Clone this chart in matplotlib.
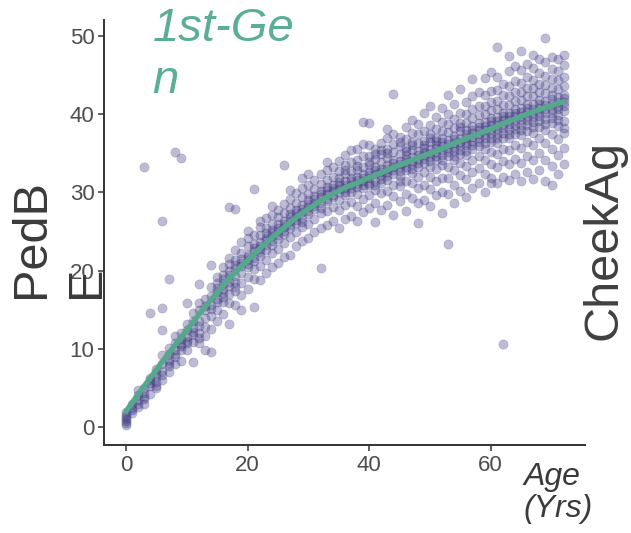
import matplotlib
matplotlib.use("Agg")
import matplotlib.pyplot as plt

# --- values (PedBE clock vs chronological age) ---
# one list of PedBE estimates per integer age, grouped by decade
pedbe_age_00_09 = [
    [0.3, 0.8, 1.0, 1.3, 1.6, 0.5, 1.9],
    [1.8, 2.5, 3.0, 2.2],
    [2.6, 3.4, 4.1, 3.0, 4.8],
    [3.0, 3.6, 4.4, 5.0, 33.2, 3.9],
    [4.2, 5.2, 6.0, 6.3, 14.6, 5.6],
    [5.3, 5.8, 6.4, 6.9, 7.4, 5.0],
    [6.0, 7.2, 8.0, 9.2, 15.2, 12.4, 26.3, 6.6],
    [7.1, 7.8, 8.6, 9.4, 10.1, 18.9, 8.2],
    [8.0, 9.0, 9.9, 10.8, 11.6, 35.2, 9.4],
    [8.4, 9.8, 10.6, 11.3, 12.0, 34.4, 10.3],
]
pedbe_age_10_19 = [
    [9.8, 10.7, 11.5, 12.4, 13.2, 15.9, 11.0],
    [8.3, 10.9, 11.8, 12.6, 13.5, 14.6, 12.2],
    [10.8, 12.0, 12.9, 13.6, 14.9, 15.8, 18.3, 11.4],
    [9.8, 11.6, 12.8, 13.9, 15.0, 16.4, 15.5],
    [12.5, 14.2, 15.6, 16.8, 17.9, 20.7, 15.1, 9.6],
    [13.6, 15.0, 16.4, 17.3, 18.4, 19.2, 16.0, 17.8],
    [14.5, 16.0, 17.2, 18.3, 19.4, 20.5, 17.6, 18.9, 16.6],
    [13.2, 15.8, 17.0, 18.6, 19.5, 20.8, 21.6, 28.1, 18.0, 19.9],
    [15.6, 17.4, 18.5, 19.3, 20.2, 21.4, 22.6, 27.9, 17.9, 20.7],
    [16.9, 18.4, 19.7, 20.6, 21.5, 22.3, 23.6, 15.0, 21.0],
]
pedbe_age_20_29 = [
    [17.6, 19.2, 20.4, 21.3, 22.0, 23.1, 24.2, 25.0, 21.7, 20.9],
    [15.3, 18.9, 20.2, 21.6, 22.5, 23.4, 24.6, 30.4, 22.9, 21.2],
    [18.8, 20.6, 21.9, 22.8, 23.7, 24.5, 25.6, 26.4, 23.2, 22.4],
    [19.7, 21.3, 22.6, 23.9, 24.8, 25.5, 26.7, 24.2, 23.3],
    [20.5, 22.2, 23.3, 24.4, 25.2, 26.0, 27.1, 28.3, 24.8, 23.8],
    [21.0, 22.8, 24.1, 25.0, 25.9, 26.8, 27.8, 24.6, 25.4],
    [21.8, 23.5, 24.7, 25.6, 26.4, 27.3, 28.5, 33.5, 26.0, 25.1],
    [22.0, 24.3, 25.4, 26.3, 27.2, 28.0, 29.2, 26.8, 25.8, 30.3],
    [23.1, 24.9, 26.1, 27.0, 27.8, 28.7, 29.9, 26.5, 27.4],
    [23.8, 25.6, 26.7, 27.5, 28.4, 29.4, 30.6, 31.8, 27.9, 26.2],
]
pedbe_age_30_39 = [
    [24.2, 26.0, 27.2, 28.1, 29.0, 29.8, 31.0, 28.5, 27.6, 32.4],
    [24.9, 26.6, 27.9, 28.7, 29.5, 30.4, 31.6, 29.1, 28.2],
    [20.3, 25.5, 27.3, 28.6, 29.4, 30.2, 31.1, 32.3, 29.8, 28.0],
    [25.8, 27.6, 28.9, 29.8, 30.7, 31.6, 32.8, 30.3, 29.2, 33.9],
    [26.3, 28.1, 29.4, 30.2, 31.0, 32.0, 33.2, 30.6, 29.7],
    [25.4, 27.7, 29.0, 30.0, 30.9, 31.8, 32.7, 34.0, 31.3, 30.4],
    [26.6, 28.4, 29.7, 30.6, 31.5, 32.4, 33.5, 34.8, 31.0, 30.1, 32.9],
    [27.0, 28.8, 30.1, 31.0, 31.8, 32.7, 33.9, 35.4, 31.4, 30.5],
    [26.4, 28.3, 29.8, 31.1, 32.0, 32.9, 34.1, 35.6, 31.6, 30.7, 33.4],
    [27.5, 29.2, 30.5, 31.4, 32.3, 33.3, 34.6, 39.0, 31.9, 30.9, 36.2],
]
pedbe_age_40_49 = [
    [28.0, 29.6, 30.9, 31.8, 32.6, 33.5, 34.7, 36.0, 32.2, 31.2, 33.9, 38.9],
    [26.2, 28.7, 30.3, 31.5, 32.4, 33.3, 34.3, 35.5, 32.8, 31.0, 34.9],
    [27.8, 29.9, 31.2, 32.2, 33.0, 33.9, 34.9, 36.3, 32.6, 31.7, 35.4],
    [28.4, 30.2, 31.6, 32.6, 33.5, 34.4, 35.5, 36.9, 38.1, 33.0, 32.1, 35.0],
    [27.1, 29.5, 31.0, 32.3, 33.3, 34.2, 35.1, 36.2, 42.6, 33.8, 32.8, 37.4],
    [28.9, 30.8, 32.1, 33.2, 34.0, 34.9, 35.9, 37.1, 33.6, 32.7, 36.4, 31.5],
    [27.6, 29.8, 31.5, 32.8, 33.9, 34.8, 35.7, 36.8, 38.3, 34.3, 33.3, 35.3],
    [29.3, 31.2, 32.5, 33.6, 34.5, 35.4, 36.4, 37.6, 39.2, 34.0, 33.0, 36.0],
    [26.1, 28.6, 30.5, 32.0, 33.3, 34.3, 35.3, 36.3, 37.5, 34.8, 33.8, 38.8],
    [29.0, 31.0, 32.6, 33.8, 34.8, 35.7, 36.6, 37.8, 40.2, 35.2, 34.3, 36.1],
]
pedbe_age_50_59 = [
    [28.2, 30.4, 32.0, 33.3, 34.5, 35.5, 36.5, 37.4, 38.6, 35.0, 34.0, 36.9, 41.0],
    [29.6, 31.5, 33.0, 34.2, 35.2, 36.1, 37.0, 38.1, 39.6, 35.7, 34.7, 36.6],
    [27.4, 30.0, 31.9, 33.5, 34.8, 35.9, 36.9, 37.9, 39.0, 40.8, 35.4, 36.4, 34.1],
    [23.4, 29.8, 31.8, 33.3, 34.6, 35.7, 36.7, 37.7, 38.7, 40.0, 35.2, 36.2, 42.4],
    [28.7, 31.0, 32.8, 34.1, 35.3, 36.3, 37.2, 38.2, 39.4, 41.3, 35.8, 36.8, 34.6],
    [30.2, 32.2, 33.7, 34.9, 36.0, 37.0, 37.9, 38.9, 40.1, 36.5, 35.4, 38.4, 43.2],
    [29.4, 31.7, 33.4, 34.8, 36.0, 37.0, 38.0, 38.9, 40.0, 41.6, 36.5, 37.5, 35.3],
    [30.6, 32.6, 34.2, 35.5, 36.6, 37.6, 38.5, 39.5, 40.7, 42.3, 37.1, 38.0, 36.0, 44.5],
    [31.2, 33.1, 34.6, 35.9, 37.0, 38.0, 38.9, 39.9, 41.0, 42.8, 37.5, 38.4, 36.4],
    [30.0, 32.4, 34.1, 35.6, 36.9, 38.0, 39.0, 40.0, 41.1, 42.4, 44.6, 37.5, 38.5, 36.3],
]
pedbe_age_60_72 = [
    [31.8, 33.6, 35.2, 36.5, 37.6, 38.6, 39.5, 40.5, 41.6, 43.0, 38.1, 39.1, 37.0, 45.4, 31.2],
    [31.2, 33.2, 34.9, 36.3, 37.5, 38.6, 39.6, 40.6, 41.7, 43.1, 48.6, 38.1, 39.1, 36.9, 44.7],
    [10.6, 32.0, 34.0, 35.6, 37.0, 38.2, 39.2, 40.2, 41.2, 42.4, 43.9, 38.7, 39.7, 37.6],
    [31.6, 33.6, 35.4, 36.9, 38.1, 39.2, 40.2, 41.2, 42.3, 43.6, 45.5, 38.7, 39.7, 37.5, 47.4],
    [32.3, 34.3, 36.0, 37.4, 38.6, 39.7, 40.7, 41.7, 42.8, 44.2, 39.2, 40.2, 38.1, 46.2],
    [31.4, 33.8, 35.7, 37.3, 38.6, 39.8, 40.8, 41.8, 42.8, 44.0, 45.6, 39.3, 40.3, 38.0, 48.1],
    [32.6, 34.6, 36.4, 37.9, 39.2, 40.3, 41.3, 42.3, 43.4, 44.7, 39.8, 40.8, 38.6, 46.4],
    [31.7, 34.1, 36.0, 37.6, 39.0, 40.2, 41.3, 42.3, 43.3, 44.4, 45.9, 39.6, 40.7, 38.3, 47.6],
    [32.8, 35.0, 36.9, 38.4, 39.7, 40.8, 41.8, 42.8, 43.9, 45.2, 40.3, 41.3, 39.1, 47.0],
    [31.5, 34.2, 36.3, 38.0, 39.4, 40.6, 41.7, 42.7, 43.7, 44.9, 46.6, 49.7, 40.1, 41.2, 38.7],
    [31.0, 33.4, 35.6, 37.4, 38.9, 40.2, 41.3, 42.4, 43.4, 44.5, 45.8, 47.3, 40.7, 41.9, 39.5],
    [32.4, 34.8, 36.8, 38.5, 39.9, 41.1, 42.2, 43.2, 44.3, 45.5, 47.1, 40.6, 41.6, 39.3],
    [33.6, 35.7, 37.6, 39.1, 40.4, 41.5, 42.5, 43.6, 44.8, 46.3, 47.5, 41.0, 42.0, 38.2],
]

# smoothed trend
trend_age = [0, 2, 4, 6, 8, 10, 12, 14, 16, 18, 20, 22, 24, 26, 28, 30, 32, 34, 36,
             38, 40, 42, 44, 46, 48, 50, 52, 54, 56, 58, 60, 62, 64, 66, 68, 70, 72]
trend_pedbe = [2.0, 4.2, 6.3, 8.4, 10.4, 12.4, 14.4, 16.3, 18.1, 19.8, 21.3, 22.8,
               24.2, 25.5, 26.8, 27.9, 28.9, 29.8, 30.6, 31.2, 31.9, 32.5, 33.2,
               33.8, 34.4, 35.0, 35.6, 36.3, 36.9, 37.5, 38.1, 38.8, 39.4, 40.0,
               40.6, 41.1, 41.6]

x_ticks = [0, 20, 40, 60]
y_ticks = [0, 10, 20, 30, 40, 50]

# flatten into age / value pairs
ages, pedbe = [], []
groups = (pedbe_age_00_09 + pedbe_age_10_19 + pedbe_age_20_29 + pedbe_age_30_39
          + pedbe_age_40_49 + pedbe_age_50_59 + pedbe_age_60_72)
for age, vals in enumerate(groups):
    ages += [age] * len(vals)
    pedbe += vals

plt.rcParams['font.family'] = ['Liberation Sans', 'DejaVu Sans']

fig = plt.figure(figsize=(6.31, 5.33), dpi=100)
ax = fig.add_axes([0.165, 0.165, 0.762, 0.797])

ax.scatter(ages, pedbe, s=44, color='#3B3680', alpha=0.33, linewidths=0.4,
           edgecolors='#3B3680', zorder=2)
ax.plot(trend_age, trend_pedbe, color='#55A88C', lw=3.8, solid_capstyle='round', zorder=3)

ax.set_xlim(-3.6, 75.5)
ax.set_ylim(-2.3, 52.0)
ax.set_xticks(x_ticks)
ax.set_yticks(y_ticks)

for side in ['top', 'right']:
    ax.spines[side].set_visible(False)
for side in ['left', 'bottom']:
    ax.spines[side].set_color('#333333')
    ax.spines[side].set_linewidth(1.4)
ax.tick_params(axis='both', direction='out', length=4, width=1.1, color='#333333',
               labelsize=16, labelcolor='#4D4D4D', pad=3)

# wrapped labels, as in the source
fig.text(0.242, 0.986, "1st-Ge\nn", color='#5AAE96', fontsize=34, style='italic',
         ha='left', va='top', linespacing=1.22)
fig.text(0.014, 0.441, "PedB\nE", color='#3A3A3A', fontsize=35, rotation=90,
         ha='left', va='bottom', multialignment='left', linespacing=1.3)
fig.text(0.921, 0.362, "CheekAg", color='#404040', fontsize=35, rotation=90,
         ha='left', va='bottom')
fig.text(0.83, 0.133, "Age\n(Yrs)", color='#3A3A3A', fontsize=23, style='italic',
         ha='left', va='top', multialignment='left', linespacing=1.1)

fig.savefig('out.png', dpi=100)
